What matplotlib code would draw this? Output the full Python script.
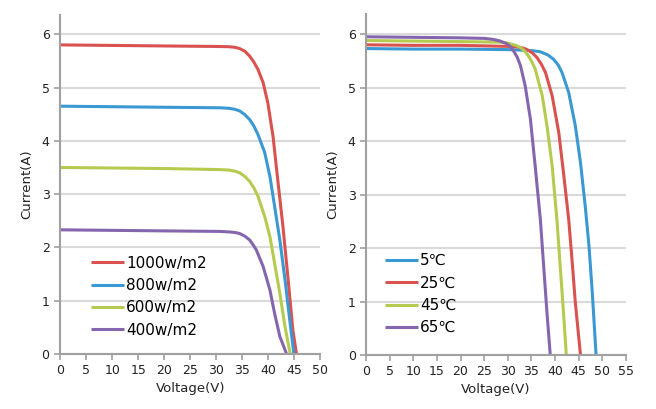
import matplotlib.pyplot as plt

plt.rcParams['font.family'] = ['DejaVu Sans', 'Noto Sans CJK SC']

# ---- irradiance curves (left) ----
v_1000 = [0, 10, 20, 30.7, 32.5, 33.6, 34.5, 35.5, 36.4, 37.2, 38.0, 39.0, 39.9, 40.9, 41.8, 42.8, 43.8, 44.7, 45.4]
i_1000 = [5.80, 5.79, 5.78, 5.77, 5.765, 5.755, 5.73, 5.68, 5.59, 5.48, 5.34, 5.09, 4.71, 4.08, 3.27, 2.39, 1.39, 0.45, 0.0]

v_800 = [0, 10, 20, 30.7, 32.5, 33.6, 34.5, 35.5, 36.4, 37.2, 38.0, 39.3, 40.3, 41.2, 42.2, 43.2, 44.1, 44.9]
i_800 = [4.65, 4.64, 4.63, 4.62, 4.61, 4.59, 4.56, 4.49, 4.40, 4.28, 4.12, 3.78, 3.33, 2.77, 2.14, 1.39, 0.64, 0.0]

v_600 = [0, 10, 20, 30.7, 32.5, 33.6, 34.5, 35.5, 36.4, 37.2, 38.0, 39.3, 40.3, 41.2, 42.2, 43.2, 44.2]
i_600 = [3.50, 3.49, 3.48, 3.46, 3.45, 3.43, 3.40, 3.33, 3.24, 3.12, 2.96, 2.58, 2.20, 1.70, 1.14, 0.51, 0.0]

v_400 = [0, 10, 20, 30.7, 32.5, 33.6, 34.5, 35.5, 36.4, 37.0, 37.7, 39.0, 40.3, 41.2, 42.2, 43.5]
i_400 = [2.33, 2.32, 2.31, 2.30, 2.29, 2.28, 2.26, 2.21, 2.14, 2.06, 1.95, 1.64, 1.20, 0.76, 0.33, 0.0]

# ---- temperature curves (right) ----
v_5 = [0, 10, 20, 30, 33, 35.2, 36.9, 38.5, 39.7, 40.7, 41.5, 42.9, 44.3, 45.4, 46.4, 47.2, 47.9, 48.7]
i_5 = [5.73, 5.72, 5.72, 5.71, 5.70, 5.69, 5.67, 5.61, 5.53, 5.42, 5.28, 4.91, 4.29, 3.60, 2.79, 2.04, 1.17, 0.0]

v_25 = [0, 10, 20, 30, 32.0, 33.2, 34.1, 35.2, 36.2, 37.1, 38.0, 39.4, 40.8, 41.8, 42.9, 43.6, 44.3, 45.4]
i_25 = [5.80, 5.79, 5.79, 5.77, 5.76, 5.74, 5.71, 5.65, 5.56, 5.44, 5.28, 4.85, 4.16, 3.41, 2.54, 1.79, 0.99, 0.0]

v_45 = [0, 10, 20, 28, 29.5, 30.5, 31.7, 32.7, 33.6, 34.4, 35.1, 35.8, 37.3, 38.3, 39.4, 40.4, 41.1, 41.8, 42.4]
i_45 = [5.88, 5.87, 5.86, 5.85, 5.84, 5.82, 5.79, 5.75, 5.68, 5.59, 5.48, 5.35, 4.85, 4.29, 3.54, 2.54, 1.67, 0.80, 0.0]

v_65 = [0, 10, 20, 25, 27, 28.4, 29.8, 30.5, 31.2, 32.0, 32.7, 33.7, 34.8, 35.8, 36.9, 37.6, 38.3, 39.0]
i_65 = [5.95, 5.94, 5.93, 5.92, 5.90, 5.87, 5.82, 5.77, 5.69, 5.57, 5.41, 5.03, 4.41, 3.54, 2.54, 1.67, 0.80, 0.0]

red = '#D9524F'
blue = '#3A98D3'
green = '#B5CB4F'
purple = '#8466AE'
grid_c = '#DADADA'
spine_c = '#A0A0A0'

fig = plt.figure(figsize=(6.56, 4.09), dpi=100)
ax1 = fig.add_axes([0.0915, 0.1345, 0.397, 0.83])
ax2 = fig.add_axes([0.558, 0.1320, 0.396, 0.833])


def style(ax, xmax):
    ax.set_xlim(0, xmax)
    ax.set_ylim(0, 6.37)
    ax.set_xticks(range(0, xmax + 1, 5))
    ax.set_yticks(range(0, 7))
    ax.grid(axis='y', color=grid_c, lw=1.5)
    ax.set_axisbelow(True)
    for s in ['top', 'right']:
        ax.spines[s].set_visible(False)
    for s in ['left', 'bottom']:
        ax.spines[s].set_color(spine_c)
        ax.spines[s].set_linewidth(1.5)
    ax.tick_params(colors=spine_c, width=1.2, length=4, labelsize=9, labelcolor='#222222')
    ax.set_xlabel('Voltage(V)', fontsize=9.5, color='#222222', labelpad=3)
    ax.set_ylabel('Current(A)', fontsize=9.5, color='#222222', labelpad=6)


lw = 2.2
kw = dict(lw=lw, solid_joinstyle='round', solid_capstyle='butt')
ax1.plot(v_1000, i_1000, color=red, label='1000w/m2', **kw)
ax1.plot(v_800, i_800, color=blue, label='800w/m2', **kw)
ax1.plot(v_600, i_600, color=green, label='600w/m2', **kw)
ax1.plot(v_400, i_400, color=purple, label='400w/m2', **kw)
style(ax1, 50)
ax1.legend(loc='lower left', bbox_to_anchor=(0.095, 0.03), frameon=False, fontsize=11,
           handlelength=2.2, handletextpad=0.1, labelspacing=0.48, borderaxespad=0)

ax2.plot(v_5, i_5, color=blue, label='5℃', **kw)
ax2.plot(v_25, i_25, color=red, label='25℃', **kw)
ax2.plot(v_45, i_45, color=green, label='45℃', **kw)
ax2.plot(v_65, i_65, color=purple, label='65℃', **kw)
style(ax2, 55)
ax2.legend(loc='lower left', bbox_to_anchor=(0.048, 0.04), frameon=False, fontsize=11,
           handlelength=2.2, handletextpad=0.1, labelspacing=0.48, borderaxespad=0)

plt.savefig('out.png', dpi=100)
